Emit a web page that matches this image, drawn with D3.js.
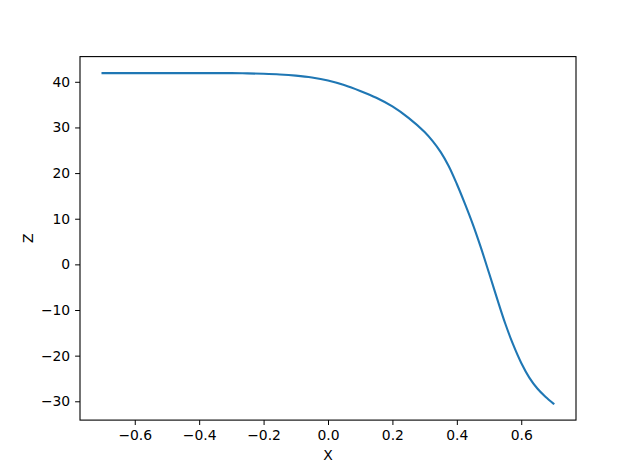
<!DOCTYPE html>
<html>
<head>
<meta charset="utf-8">
<script src="https://cdn.jsdelivr.net/npm/d3@7"></script>
<style>
  body { margin: 0; background: #fff; }
  svg { display: block; }
</style>
</head>
<body>
<svg id="chart" width="640" height="472"></svg>
<script>
var xValues = [-0.7, -0.6, -0.5, -0.4, -0.3, -0.25, -0.2, -0.15, -0.1, -0.05, 0.0, 0.05, 0.1, 0.15, 0.2, 0.25,
    0.3, 0.325, 0.35, 0.375, 0.4, 0.425, 0.45, 0.475, 0.5, 0.525, 0.55, 0.575, 0.6, 0.625, 0.65, 0.675, 0.7];
var zValues = [41.9, 41.9, 41.9, 41.9, 41.9, 41.85, 41.75, 41.6, 41.35, 40.95, 40.3, 39.3, 38.0, 36.5, 34.6, 32.1,
    29.0, 27.0, 24.6, 21.5, 17.6, 13.3, 8.7, 3.6, -1.9, -7.5, -12.9, -17.6, -21.6, -24.8, -27.2, -29.0, -30.5];
var xTicks = [-0.6, -0.4, -0.2, 0.0, 0.2, 0.4, 0.6];
var zTicks = [-30, -20, -10, 0, 10, 20, 30, 40];

var font = "DejaVu Sans";
var svg = d3.select("#chart");

var margin = { top: 56.6, right: 64, bottom: 51.9, left: 80 };
var width = +svg.attr("width") - margin.left - margin.right;
var height = +svg.attr("height") - margin.top - margin.bottom;

var data = xValues.map(function(x, i) { return { x: x, z: zValues[i] }; });

// matplotlib style 5% padding around the data
var xExt = d3.extent(xValues), zExt = d3.extent(zValues);
var xPad = (xExt[1] - xExt[0]) * 0.05, zPad = (zExt[1] - zExt[0]) * 0.05;

var x = d3.scaleLinear().domain([xExt[0] - xPad, xExt[1] + xPad]).range([0, width]);
var y = d3.scaleLinear().domain([zExt[0] - zPad, zExt[1] + zPad]).range([height, 0]);

var g = svg.append("g")
    .attr("transform", "translate(" + margin.left + "," + margin.top + ")");

var xAxis = d3.axisBottom(x).tickValues(xTicks).tickFormat(d3.format(".1f"))
    .tickSize(4.9).tickPadding(4.9).tickSizeOuter(0);
var yAxis = d3.axisLeft(y).tickValues(zTicks).tickFormat(d3.format("d"))
    .tickSize(4.9).tickPadding(4.9).tickSizeOuter(0);

var gx = g.append("g")
    .attr("transform", "translate(0," + height + ")")
    .call(xAxis);
var gy = g.append("g").call(yAxis);

[gx, gy].forEach(function(a) {
    a.attr("font-family", font).attr("font-size", 13.9);
    a.select(".domain").remove();
    a.selectAll("line").attr("stroke", "#000").attr("stroke-width", 1);
    a.selectAll("text").attr("fill", "#000");
});

var line = d3.line()
    .curve(d3.curveCatmullRom.alpha(0.5))
    .x(function(d) { return x(d.x); })
    .y(function(d) { return y(d.z); });

g.append("path")
    .datum(data)
    .attr("fill", "none")
    .attr("stroke", "#1f77b4")
    .attr("stroke-width", 2.1)
    .attr("stroke-linecap", "square")
    .attr("d", line);

// frame
g.append("rect")
    .attr("width", width)
    .attr("height", height)
    .attr("fill", "none")
    .attr("stroke", "#000")
    .attr("stroke-width", 1.1);

// axis labels
g.append("text")
    .attr("x", width / 2)
    .attr("y", height + 40)
    .attr("text-anchor", "middle")
    .attr("font-family", font)
    .attr("font-size", 13.9)
    .text("X");

g.append("text")
    .attr("transform", "rotate(-90)")
    .attr("x", -height / 2)
    .attr("y", -47)
    .attr("text-anchor", "middle")
    .attr("font-family", font)
    .attr("font-size", 13.9)
    .text("Z");
</script>
</body>
</html>
